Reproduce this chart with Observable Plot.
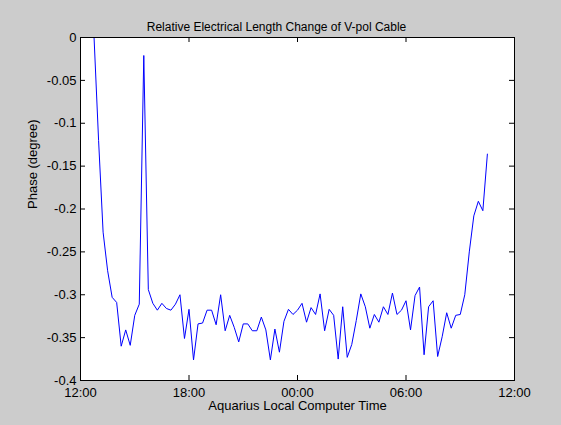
<!DOCTYPE html>
<html><head><meta charset="utf-8">
<script src="https://cdn.jsdelivr.net/npm/d3@7"></script>
<script src="https://cdn.jsdelivr.net/npm/@observablehq/plot@0.6"></script>
<style>html,body{margin:0;padding:0;background:#cccccc;overflow:hidden;}</style>
</head><body><div id="chart"></div>
<script>
const title = "Relative Electrical Length Change of V-pol Cable";
const xLabel = "Aquarius Local Computer Time";
const yLabel = "Phase (degree)";
const startTime = "2000-01-01T12:45:00Z";
const stepMinutes = 15;
const phase = [
  0, -0.12, -0.227, -0.272, -0.303, -0.309, -0.360, -0.341, -0.359, -0.324,
  -0.311, -0.021, -0.294, -0.310, -0.318, -0.310, -0.316, -0.318, -0.311, -0.300,
  -0.351, -0.317, -0.376, -0.334, -0.333, -0.318, -0.318, -0.335, -0.300, -0.342,
  -0.324, -0.338, -0.355, -0.334, -0.334, -0.342, -0.342, -0.326, -0.341, -0.376,
  -0.340, -0.367, -0.331, -0.317, -0.323, -0.318, -0.310, -0.332, -0.315, -0.323,
  -0.299, -0.342, -0.317, -0.324, -0.375, -0.314, -0.373, -0.358, -0.330, -0.299,
  -0.314, -0.339, -0.323, -0.332, -0.314, -0.323, -0.298, -0.323, -0.318, -0.307,
  -0.341, -0.301, -0.291, -0.370, -0.314, -0.307, -0.372, -0.349, -0.321, -0.339,
  -0.324, -0.323, -0.300, -0.250, -0.208, -0.191, -0.202, -0.136
];
const xTickTimes = ["2000-01-01T12:00:00Z", "2000-01-01T18:00:00Z", "2000-01-02T00:00:00Z", "2000-01-02T06:00:00Z", "2000-01-02T12:00:00Z"];
const xTickLabels = ["12:00", "18:00", "00:00", "06:00", "12:00"];
const yTicks = [0, -0.05, -0.1, -0.15, -0.2, -0.25, -0.3, -0.35, -0.4];
const yTickLabels = ["0", "-0.05", "-0.1", "-0.15", "-0.2", "-0.25", "-0.3", "-0.35", "-0.4"];

const t0 = new Date(startTime);
const data = phase.map((v, i) => ({time: new Date(+t0 + i * stepMinutes * 60000), phase: v}));
const xTicks = xTickTimes.map(s => new Date(s));

const W = 561, H = 425, mL = 80, mR = 47, mT = 37, mB = 45;
const tickLen = 5;
const innerW = W - mL - mR, innerH = H - mT - mB;

const plot = Plot.plot({
  width: W, height: H,
  marginLeft: mL, marginRight: mR, marginTop: mT, marginBottom: mB,
  style: {background: "#cccccc", fontFamily: "'Liberation Sans', Arial, Helvetica, sans-serif", fontSize: "13px", color: "black"},
  x: {type: "utc", domain: [xTicks[0], xTicks[xTicks.length - 1]]},
  y: {domain: [-0.4, 0]},
  marks: [
    Plot.frame({fill: "white"}),
    Plot.line(data, {x: "time", y: "phase", stroke: "#0000ff", strokeWidth: 1, clip: true}),
    Plot.ruleX(xTicks, {insetTop: innerH - tickLen, stroke: "black"}),
    Plot.ruleX(xTicks, {insetBottom: innerH - tickLen, stroke: "black"}),
    Plot.ruleY(yTicks, {insetLeft: innerW - tickLen, stroke: "black"}),
    Plot.ruleY(yTicks, {insetRight: innerW - tickLen, stroke: "black"}),
    Plot.frame({stroke: "black"}),
    Plot.axisX({
      ticks: xTicks,
      tickFormat: d => xTickLabels[xTicks.findIndex(t => +t === +d)],
      tickSize: 0, tickPadding: 7,
      label: null
    }),
    Plot.axisY({
      ticks: yTicks,
      tickFormat: d => yTickLabels[yTicks.findIndex(t => Math.abs(t - d) < 1e-9)],
      tickSize: 0, tickPadding: 4,
      label: null
    }),
    Plot.text([xLabel], {text: d => d, frameAnchor: "bottom", dy: 29, fontSize: 13}),
    Plot.text([yLabel], {text: d => d, frameAnchor: "left", dx: -48, rotate: -90, fontSize: 13}),
    Plot.text([title], {text: d => d, frameAnchor: "top", dx: -21, dy: -15, fontSize: 12})
  ]
});
document.getElementById("chart").appendChild(plot);
</script>
</body></html>
